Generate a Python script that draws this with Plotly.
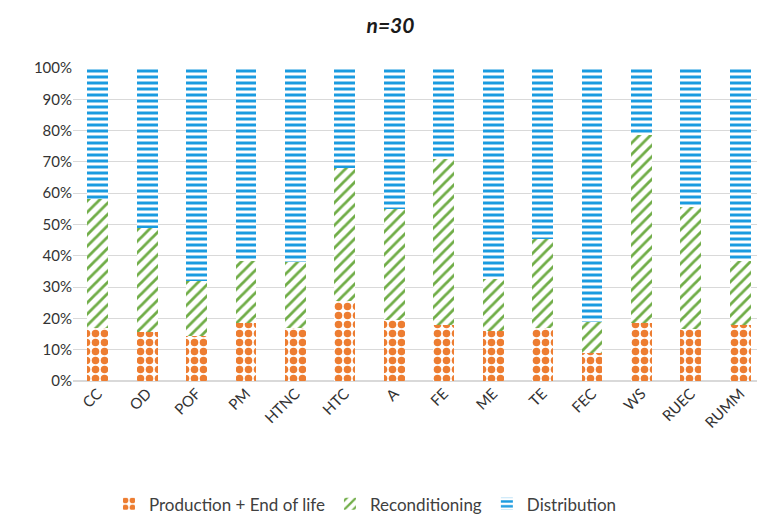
import plotly.graph_objects as go

categories = ["CC", "OD", "POF", "PM", "HTNC", "HTC", "A", "FE", "ME", "TE", "FEC", "WS", "RUEC", "RUMM"]
production_eol = [17, 15.5, 14.5, 18.5, 17, 25.5, 19.5, 18, 16, 17, 9, 18.5, 16.5, 18]
reconditioning_top = [58, 49, 32, 38.5, 38, 68, 55, 71, 32.5, 45.5, 19, 78.5, 55.5, 38.5]
reconditioning = [t - p for t, p in zip(reconditioning_top, production_eol)]
distribution = [100 - t for t in reconditioning_top]

ORANGE = "#ED7D31"
GREEN = "#70AD47"
BLUE = "#1A9BE0"

fig = go.Figure()
fig.add_trace(go.Bar(
    x=categories, y=production_eol, name="Production + End of life",
    marker=dict(color=ORANGE, line=dict(width=0),
                pattern=dict(shape=".", fgcolor=ORANGE, bgcolor="white", size=9, solidity=0.55, fillmode="replace")),
))
fig.add_trace(go.Bar(
    x=categories, y=reconditioning, name="Reconditioning",
    marker=dict(color=GREEN, line=dict(width=0),
                pattern=dict(shape="/", fgcolor=GREEN, bgcolor="white", size=8, solidity=0.35, fillmode="replace")),
))
fig.add_trace(go.Bar(
    x=categories, y=distribution, name="Distribution",
    marker=dict(color=BLUE, line=dict(width=0),
                pattern=dict(shape="-", fgcolor=BLUE, bgcolor="white", size=6, solidity=0.5, fillmode="replace")),
))

fig.update_layout(
    barmode="stack",
    bargap=0.58,
    width=765, height=520,
    margin=dict(l=65, r=8, t=60, b=147, autoexpand=False),
    paper_bgcolor="white", plot_bgcolor="white",
    font=dict(family="Lato, Open Sans, sans-serif", size=14, color="#404040"),
    title=dict(text="<b><i>n=30</i></b>", x=0.5, xanchor="center", y=0.967, yanchor="middle",
               font=dict(size=21, color="#1a1a1a")),
    legend=dict(orientation="h", x=0.052, xanchor="left", y=-0.394, yanchor="middle",
                font=dict(size=17, color="#404040"), traceorder="normal", itemwidth=30),
    showlegend=True,
)
fig.update_yaxes(range=[0, 100], tickvals=list(range(0, 101, 10)),
                 ticktext=[f"{v}%" for v in range(0, 101, 10)],
                 showgrid=True, gridcolor="#d9d9d9", gridwidth=1, automargin=False,
                 zeroline=True, zerolinecolor="#d9d9d9", showline=False,
                 tickfont=dict(size=15, color="#333333"), ticks="", ticklen=0)
fig.update_xaxes(tickangle=-45, tickfont=dict(size=15, color="#333333"), showline=False, ticks="",
                 automargin=False)

fig.write_html("out.html")
